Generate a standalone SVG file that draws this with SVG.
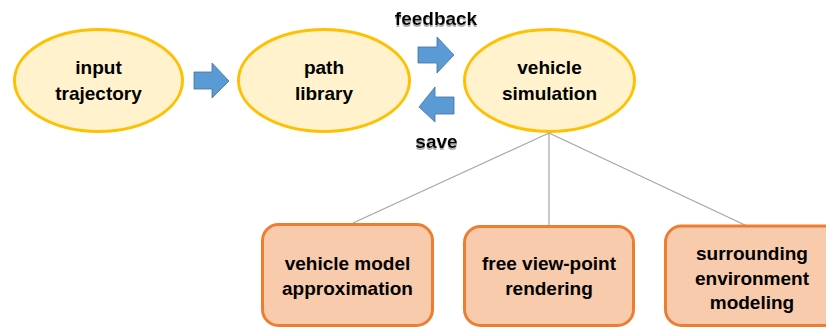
<svg xmlns="http://www.w3.org/2000/svg" width="826" height="329" viewBox="0 0 826 329">
<defs>
<style>
.ell{fill:#FFF2CC;stroke:#FFC000;stroke-width:3}
.box{fill:#F8CBAD;stroke:#ED7D31;stroke-width:3}
.arr{fill:#5B9BD5;stroke:#41719C;stroke-width:0.8}
.con{stroke:#A5A5A5;stroke-width:1.2;fill:none}
text{font-family:"Liberation Sans",Arial,sans-serif;font-weight:bold;font-size:19px;fill:#000;text-anchor:middle}
.sh{filter:url(#shadow)}
</style>
<filter id="shadow" x="-20%" y="-40%" width="140%" height="180%">
<feDropShadow dx="0" dy="2" stdDeviation="0.6" flood-color="#9a9a9a" flood-opacity="0.8"/>
</filter>
</defs>
<rect width="826" height="329" fill="#fff"/>
<g id="connectors">
<line class="con" x1="549" y1="133" x2="353" y2="223"/>
<line class="con" x1="549" y1="133" x2="549" y2="226"/>
<line class="con" x1="549" y1="133" x2="747" y2="226"/>
<polygon class="arr" points="194,72 212,72 212,63 229,81 212,98 212,89 194,89"/>
<polygon class="arr" points="418,47 437,47 437,37 454,55 437,73 437,63 418,63"/>
<polygon class="arr" points="454,97 435,97 435,87 419,107 435,122 435,114 454,114"/>
<text class="sh" x="436" y="25">feedback</text>
<text class="sh" x="436.5" y="148">save</text>
</g>
<g id="input-trajectory">
<ellipse class="ell" cx="98.5" cy="80.5" rx="84" ry="51"/>
<text x="98.5" y="74">input</text>
<text x="98.5" y="100">trajectory</text>
</g>
<g id="path-library">
<ellipse class="ell" cx="324" cy="80.5" rx="85.5" ry="51"/>
<text x="324" y="74">path</text>
<text x="324" y="100">library</text>
</g>
<g id="vehicle-simulation">
<ellipse class="ell" cx="549.5" cy="80.5" rx="85" ry="51"/>
<text x="549.5" y="74">vehicle</text>
<text x="549.5" y="100">simulation</text>
</g>
<g id="vehicle-model-approximation">
<rect class="box" x="262.5" y="224.5" width="170" height="101" rx="16"/>
<text x="347.5" y="270">vehicle model</text>
<text x="347.5" y="295">approximation</text>
</g>
<g id="free-view-point-rendering">
<rect class="box" x="464.5" y="226.5" width="169" height="99" rx="16"/>
<text x="549" y="270">free view-point</text>
<text x="549" y="295">rendering</text>
</g>
<g id="surrounding-environment-modeling">
<rect class="box" x="665.5" y="226" width="185" height="99.5" rx="16"/>
<text x="752" y="260">surrounding</text>
<text x="752" y="285">environment</text>
<text x="752" y="309">modeling</text>
</g>
</svg>
